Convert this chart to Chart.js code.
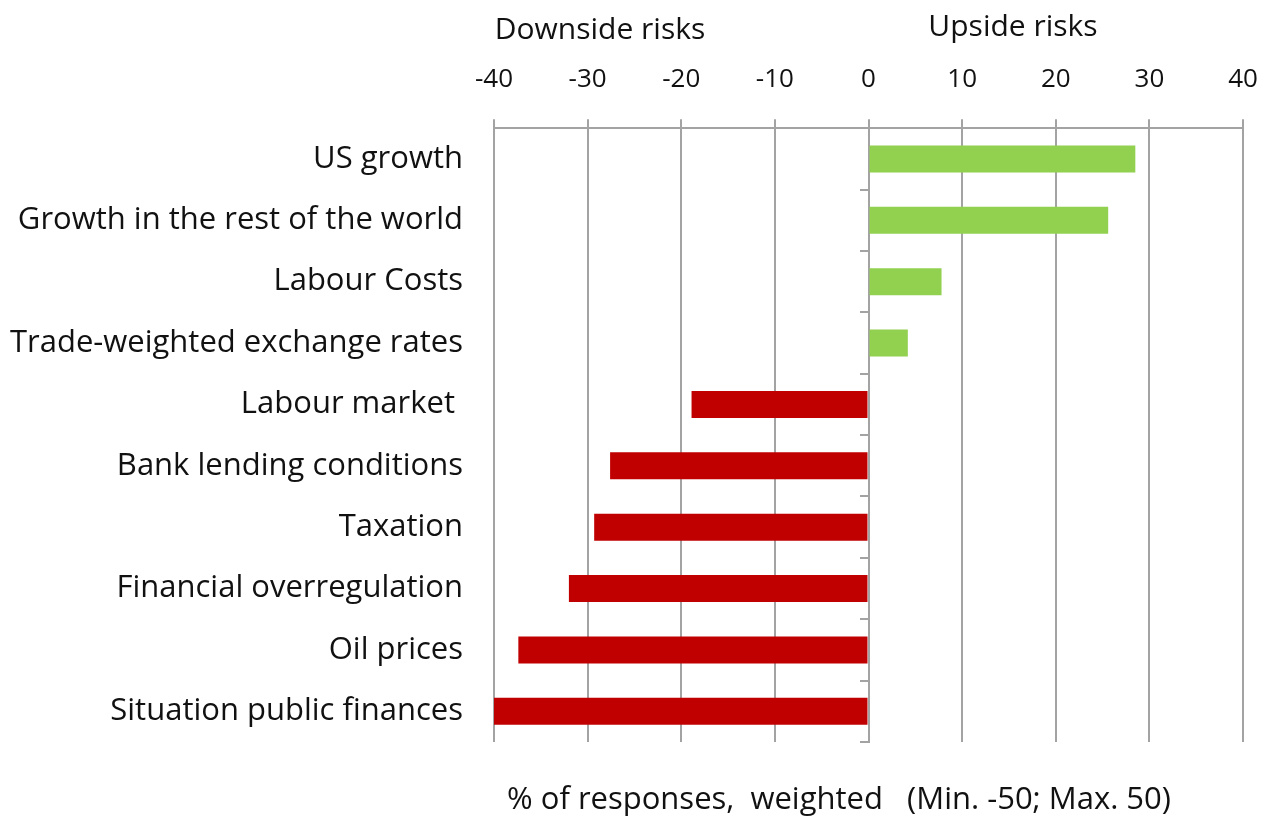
<!DOCTYPE html>
<html>
<head>
<meta charset="utf-8">
<script src="https://cdn.jsdelivr.net/npm/chart.js@4"></script>
<style>
  html, body { margin: 0; padding: 0; background: #fff; }
  #wrap { width: 1271px; height: 818px; position: relative; }
</style>
</head>
<body>
<div id="wrap"><canvas id="risks"></canvas></div>
<script>
// Risk factors, top to bottom
const categories = [
  'US growth',
  'Growth in the rest of the world',
  'Labour Costs',
  'Trade-weighted exchange rates',
  'Labour market ',
  'Bank lending conditions',
  'Taxation',
  'Financial overregulation',
  'Oil prices',
  'Situation public finances'
];
// weighted balance of responses (%)
const balance = [28.5, 25.6, 7.8, 4.2, -18.9, -27.6, -29.3, -32.0, -37.4, -40.0];
const xTicks = [-40, -30, -20, -10, 0, 10, 20, 30, 40];

const GREEN = '#92D050';
const RED = '#C00000';
const GRID = '#a3a3a3';
const FONT = '"Open Sans", Lato, sans-serif';

// headings above and below the plot
const headings = {
  id: 'headings',
  afterDraw(chart) {
    const c = chart.ctx;
    c.save();
    c.fillStyle = '#111';
    c.textAlign = 'center';
    c.textBaseline = 'middle';
    c.font = '30px ' + FONT;
    c.fillText('Downside risks', 600, 30);
    c.fillText('Upside risks', 1013, 27);
    c.font = '31px ' + FONT;
    c.fillText('% of responses,  weighted   (Min. -50; Max. 50)', 839, 800);
    c.restore();
  }
};

new Chart(document.getElementById('risks'), {
  type: 'bar',
  data: {
    labels: categories,
    datasets: [{
      data: balance,
      backgroundColor: balance.map(v => v >= 0 ? GREEN : RED),
      borderWidth: 0,
      barPercentage: 0.44,
      categoryPercentage: 1
    }]
  },
  options: {
    indexAxis: 'y',
    responsive: true,
    maintainAspectRatio: false,
    animation: false,
    layout: { padding: { top: 40, right: 28, bottom: 76, left: 0 } },
    plugins: { legend: { display: false }, tooltip: { enabled: false } },
    scales: {
      x: {
        position: 'top',
        min: -40,
        max: 40,
        afterBuildTicks(scale) { scale.ticks = xTicks.map(v => ({ value: v })); },
        // tick padding would otherwise widen the side margins
        afterFit(scale) { scale.paddingLeft = 0; scale.paddingRight = 0; },
        ticks: { color: '#111', font: { family: FONT, size: 26 }, padding: 24 },
        grid: { color: GRID, lineWidth: 2, tickLength: 9 },
        border: { display: true, color: GRID, width: 2 }
      },
      y: {
        position: 'left',
        afterFit(scale) { scale.width = 494; },
        ticks: { color: '#111', font: { family: FONT, size: 31 }, padding: 31 },
        grid: { display: false, drawTicks: false },
        border: { display: false }
      },
      // category axis drawn along zero with small ticks between bars
      y2: {
        type: 'category',
        position: { x: 0 },
        offset: true,
        ticks: { display: false },
        grid: { offset: true, drawOnChartArea: false, tickLength: 8, color: GRID, lineWidth: 2 },
        border: { display: true, color: GRID, width: 2 }
      }
    }
  },
  plugins: [headings]
});
</script>
</body>
</html>
